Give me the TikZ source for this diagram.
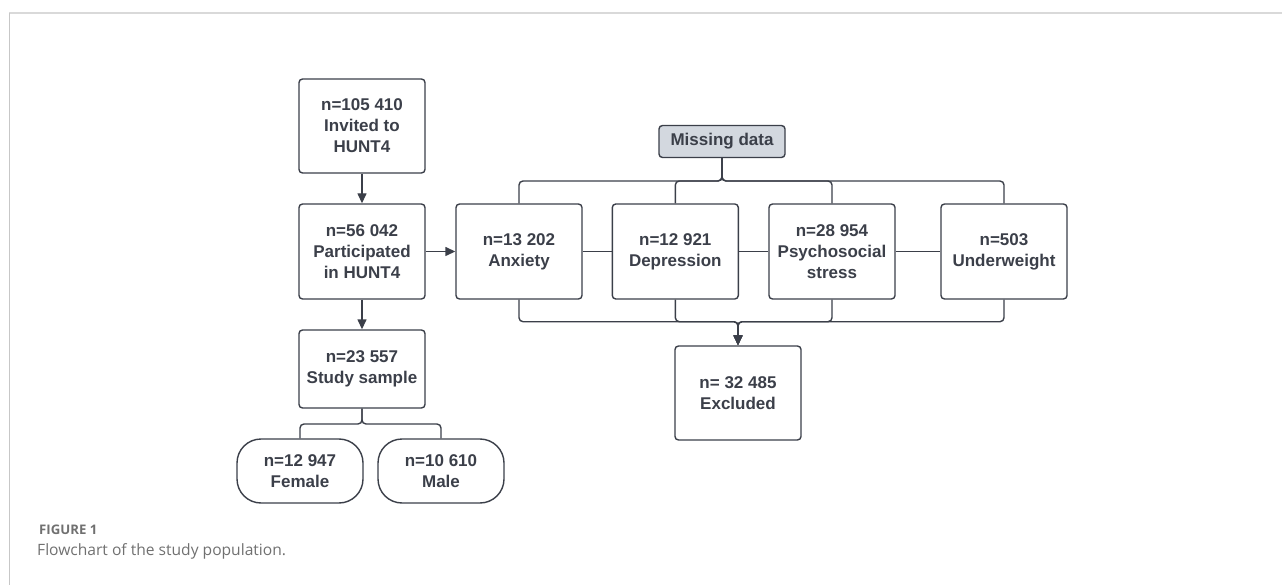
\documentclass[tikz,border=0pt]{standalone}
\usepackage{fontspec}
\setmainfont{Liberation Sans}
\newfontfamily\capfont{Open Sans}
\usetikzlibrary{arrows.meta}
\definecolor{ink}{HTML}{3B3F49}
\definecolor{mdfill}{HTML}{D3D8DF}
\definecolor{capgray}{HTML}{707070}
\tikzset{
  box/.style={draw=ink, line width=1.4pt, rounded corners=3.5pt, text=ink,
    minimum width=126pt, minimum height=95pt, align=center, inner sep=0pt,
    font=\fontsize{17}{21}\selectfont\bfseries},
  pill/.style={box, rounded corners=24pt, minimum height=64pt},
  conn/.style={draw=ink, line width=1.4pt, rounded corners=4pt},
  arr/.style={conn, -{Triangle[length=10pt,width=9pt]}},
}
\begin{document}
\begin{tikzpicture}[x=1pt,y=-1pt]
\useasboundingbox (0,0) rectangle (1282,585);
% frame
\draw[line width=1.8pt, color=black!15] (9,12.7) -- (1282,12.7);
\draw[line width=0.9pt, color=black!22] (9,13.5) -- (9,585);

% left column
\node[box, minimum height=94pt] (inv) at (362,126) {n=105 410\\Invited to\\HUNT4};
\node[box] (par) at (362,251.5) {n=56 042\\Participated\\in HUNT4};
\node[box, minimum height=78pt] (stu) at (362,369) {n=23 557\\Study sample};
\node[pill] (fem) at (300,471) {n=12 947\\Female};
\node[pill] (mal) at (441,471) {n=10 610\\Male};

% missing data row
\node[box, fill=mdfill, minimum height=32pt] (md) at (722,141.5) {Missing data};
\node[box] (anx) at (519,251.5) {n=13 202\\Anxiety};
\node[box] (dep) at (675.3,251.5) {n=12 921\\Depression};
\node[box] (psy) at (832,251.5) {n=28 954\\Psychosocial\\stress};
\node[box] (und) at (1004,251.5) {n=503\\Underweight};
\node[box, minimum height=94pt] (exc) at (738,393) {n= 32 485\\Excluded};

\coordinate (tb) at (722,181);
\coordinate (bb) at (738,321.7);
\coordinate (sb) at (362,424);

% connectors
\draw[arr] (inv) -- (par);
\draw[arr] (par) -- (stu);
\draw[arr] (par) -- (anx);
\draw[conn] (anx) -- (dep);
\draw[conn] (dep) -- (psy);
\draw[conn] (psy) -- (und);
\foreach \b in {anx,dep,psy,und}{
  \draw[conn] (md.south) -- (tb) -| (\b.north);
  \draw[arr] (\b.south) |- (bb) -- (exc.north);
}
\draw[conn] (stu.south) -- (sb) -| (fem.north);
\draw[conn] (stu.south) -- (sb) -| (mal.north);

% caption
\node[anchor=base west, inner sep=0pt, text=capgray, font=\capfont\fontsize{13.2}{15}\selectfont\bfseries] (fig) at (39,534) {FIGURE 1};
\node[anchor=base west, inner sep=0pt, text=capgray, font=\capfont\fontsize{15.6}{18}\selectfont] (cap) at (37,555) {Flowchart of the study population.};
\end{tikzpicture}
\end{document}
